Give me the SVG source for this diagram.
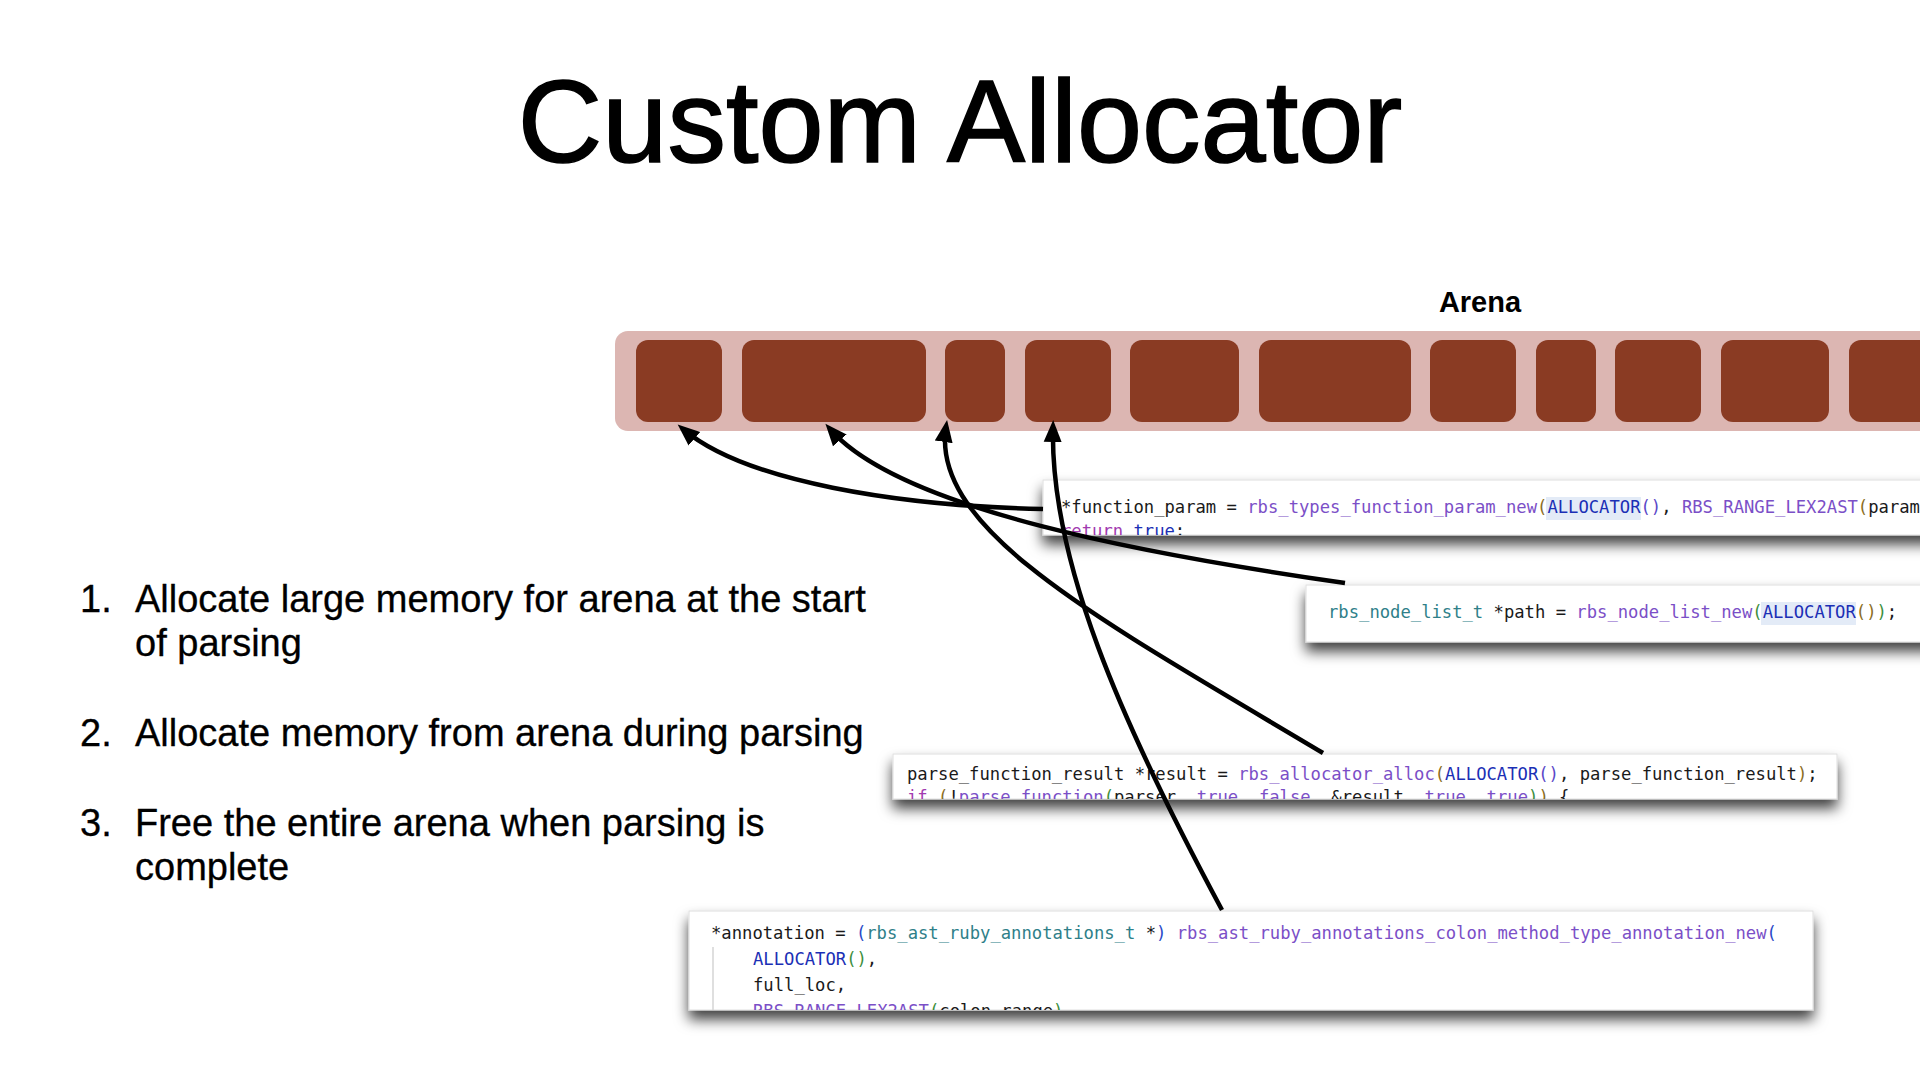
<svg xmlns="http://www.w3.org/2000/svg" width="1920" height="1080" viewBox="0 0 1920 1080">
<style>
.title{font-family:"Liberation Sans",Arial,sans-serif;font-size:117px;fill:#000;stroke:#000;stroke-width:1.6}
.item{font-family:"Liberation Sans",Arial,sans-serif;font-size:38px;fill:#000;stroke:#000;stroke-width:0.3}
.lbl{font-family:"Liberation Sans",Arial,sans-serif;font-size:29px;font-weight:bold;fill:#000}
.code{font-family:"DejaVu Sans Mono","Liberation Mono",monospace;font-size:17.2px;fill:#1a1a1a}
.box{fill:#fff;stroke:#dedede;stroke-width:1}
.blk{fill:#8a3b23}
.fn{fill:#7b4fc7}
.ty{fill:#2f7f89}
.mac{fill:#1b2fb5}
.br{fill:#8b6d1e}
.gr{fill:#3d8f3d}
.pb{fill:#5a48c8}
.bl{fill:#2a49c8}
.kw{fill:#a23ab0}
.hl{fill:#e3ebf7}
.arrow{fill:none;stroke:#000;stroke-width:4.5;marker-end:url(#ah)}
</style>
<defs>
<marker id="ah" markerUnits="userSpaceOnUse" markerWidth="24" markerHeight="20" viewBox="0 0 24 20" refX="15" refY="10" orient="auto">
<path d="M0,1 L22,10 L0,19 Z" fill="#000"/>
</marker>
<filter id="sh" x="-5%" y="-30%" width="110%" height="190%">
<feDropShadow dx="0" dy="9" stdDeviation="7" flood-color="#000" flood-opacity="0.75"/>
</filter>
<clipPath id="cA"><rect x="1043" y="480" width="900" height="55"/></clipPath>
<clipPath id="cB"><rect x="1306" y="585" width="640" height="57"/></clipPath>
<clipPath id="cC"><rect x="893" y="754" width="944" height="45"/></clipPath>
<clipPath id="cD"><rect x="689" y="911" width="1124" height="99"/></clipPath>
</defs>
<rect width="1920" height="1080" fill="#fff"/>

<text class="title" x="960" y="162" text-anchor="middle">Custom Allocator</text>

<g id="list">
<text class="item" x="80" y="612">1.</text>
<text class="item" x="135" y="612">Allocate large memory for arena at the start</text>
<text class="item" x="135" y="656">of parsing</text>
<text class="item" x="80" y="746">2.</text>
<text class="item" x="135" y="746">Allocate memory from arena during parsing</text>
<text class="item" x="80" y="836">3.</text>
<text class="item" x="135" y="836">Free the entire arena when parsing is</text>
<text class="item" x="135" y="880">complete</text>
</g>

<g id="arena">
<text class="lbl" x="1480" y="312" text-anchor="middle">Arena</text>
<rect x="615" y="331" width="1400" height="100" rx="13" fill="#dcb6b2"/>
<rect class="blk" x="636" y="340" width="86" height="82" rx="12"/>
<rect class="blk" x="742" y="340" width="184" height="82" rx="12"/>
<rect class="blk" x="945" y="340" width="60" height="82" rx="12"/>
<rect class="blk" x="1025" y="340" width="86" height="82" rx="12"/>
<rect class="blk" x="1130" y="340" width="109" height="82" rx="12"/>
<rect class="blk" x="1259" y="340" width="152" height="82" rx="12"/>
<rect class="blk" x="1430" y="340" width="86" height="82" rx="12"/>
<rect class="blk" x="1536" y="340" width="60" height="82" rx="12"/>
<rect class="blk" x="1615" y="340" width="86" height="82" rx="12"/>
<rect class="blk" x="1721" y="340" width="108" height="82" rx="12"/>
<rect class="blk" x="1849" y="340" width="200" height="82" rx="12"/>
</g>

<g id="code-function-param">
<rect class="box" x="1043" y="480" width="900" height="55" filter="url(#sh)"/>
<g clip-path="url(#cA)">
<rect class="hl" x="1546" y="497" width="95" height="23"/>
<text class="code" x="1061" y="513">*function_param = <tspan class="fn">rbs_types_function_param_new</tspan><tspan class="br">(</tspan><tspan class="mac">ALLOCATOR</tspan><tspan class="pb">()</tspan>, <tspan class="fn">RBS_RANGE_LEX2AST</tspan><tspan class="br">(</tspan>param</text>
<text class="code" x="1061" y="537"><tspan class="kw">return</tspan> <tspan class="mac">true</tspan>;</text>
</g>
</g>

<g id="code-node-list">
<rect class="box" x="1306" y="585" width="640" height="57" filter="url(#sh)"/>
<g clip-path="url(#cB)">
<rect class="hl" x="1761" y="602" width="95" height="23"/>
<text class="code" x="1328" y="618"><tspan class="ty">rbs_node_list_t</tspan> *path = <tspan class="fn">rbs_node_list_new</tspan><tspan class="gr">(</tspan><tspan class="mac">ALLOCATOR</tspan><tspan class="br">()</tspan><tspan class="gr">)</tspan>;</text>
</g>
</g>

<g id="code-alloc">
<rect class="box" x="893" y="754" width="944" height="45" filter="url(#sh)"/>
<g clip-path="url(#cC)">
<text class="code" x="907" y="780">parse_function_result *result = <tspan class="fn">rbs_allocator_alloc</tspan><tspan class="br">(</tspan><tspan class="mac">ALLOCATOR</tspan><tspan class="pb">()</tspan>, parse_function_result<tspan class="br">)</tspan>;</text>
<text class="code" x="907" y="803"><tspan class="kw">if</tspan> <tspan class="br">(</tspan>!<tspan class="fn">parse_function</tspan><tspan class="gr">(</tspan>parser, <tspan class="fn">true</tspan>, <tspan class="fn">false</tspan>, &amp;result, <tspan class="fn">true</tspan>, <tspan class="fn">true</tspan><tspan class="gr">)</tspan><tspan class="br">)</tspan> {</text>
</g>
</g>

<g id="code-annotation">
<rect class="box" x="689" y="911" width="1124" height="99" filter="url(#sh)"/>
<g clip-path="url(#cD)">
<line x1="713" y1="947" x2="713" y2="1012" stroke="#d4d4d4" stroke-width="1.5"/>
<text class="code" x="711" y="939">*annotation = <tspan class="bl">(</tspan><tspan class="ty">rbs_ast_ruby_annotations_t</tspan> *<tspan class="bl">)</tspan> <tspan class="fn">rbs_ast_ruby_annotations_colon_method_type_annotation_new</tspan><tspan class="bl">(</tspan></text>
<text class="code" x="753" y="965"><tspan class="mac">ALLOCATOR</tspan><tspan class="gr">()</tspan>,</text>
<text class="code" x="753" y="991">full_loc,</text>
<text class="code" x="753" y="1017"><tspan class="fn">RBS_RANGE_LEX2AST</tspan><tspan class="gr">(</tspan>colon_range<tspan class="gr">)</tspan></text>
</g>
</g>

<g id="connectors">
<path class="arrow" d="M1043,509 C900,506 745,482 683,429"/>
<path class="arrow" d="M1345,583 C1150,555 900,510 830,429"/>
<path class="arrow" d="M1323,753 C1100,620 930,530 946,427"/>
<path class="arrow" d="M1222,910 C1120,720 1050,560 1053,427"/>
</g>
</svg>
